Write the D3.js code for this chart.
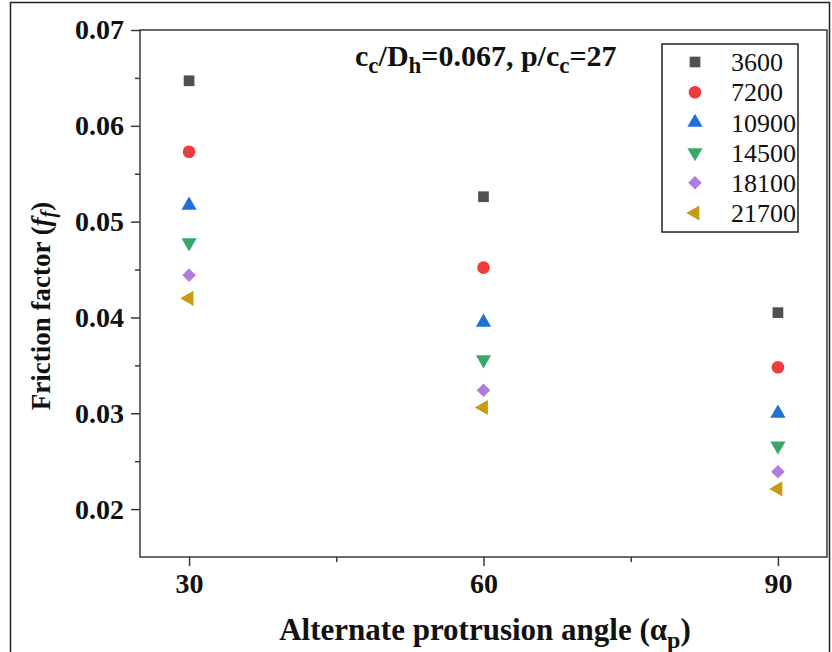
<!DOCTYPE html>
<html>
<head>
<meta charset="utf-8">
<script src="https://cdn.jsdelivr.net/npm/d3@7/dist/d3.min.js"></script>
<style>
  html, body { margin: 0; padding: 0; background: #fff; }
  svg { display: block; }
  text { font-family: "Liberation Serif", "Times New Roman", serif; fill: #111; }
</style>
</head>
<body>
<svg id="chart" width="832" height="652"></svg>
<script>
// Protrusion angles (x categories)
const angles = [30, 60, 90];
// Reynolds numbers, one series each
const series = ["3600", "7200", "10900", "14500", "18100", "21700"];
// Friction factor per series at 30, 60, 90 degrees
const f3600  = [0.0647, 0.0526, 0.0405];
const f7200  = [0.0573, 0.0452, 0.0348];
const f10900 = [0.0517, 0.0395, 0.0300];
const f14500 = [0.0478, 0.0356, 0.0266];
const f18100 = [0.0444, 0.0324, 0.0239];
const f21700 = [0.0420, 0.0306, 0.0221];
const values = [f3600, f7200, f10900, f14500, f18100, f21700];

const yTicks = [0.02, 0.03, 0.04, 0.05, 0.06, 0.07];
const yMinor = [0.025, 0.035, 0.045, 0.055, 0.065];
const xTicks = [30, 60, 90];
const xMinor = [45, 75];

const colors = ["#505050", "#ee3b3f", "#1f6fd8", "#38a86a", "#b07ade", "#c99a12"];
const shapes = ["square", "circle", "up", "down", "diamond", "left"];

const svg = d3.select("#chart");
const L = 140, R = 827, T = 30, B = 557;

const x = d3.scaleLinear().domain([25, 95]).range([L, R]);
const y = d3.scaleLinear().domain([0.015, 0.07]).range([B, T]);

// figure border
svg.append("rect").attr("x", 10.5).attr("y", 2.5).attr("width", 819).attr("height", 660)
  .attr("fill", "none").attr("stroke", "#222").attr("stroke-width", 1.5);

// marker path generator
function markerPath(shape) {
  switch (shape) {
    case "square": return d3.symbol(d3.symbolSquare, 115)();
    case "circle": return d3.symbol(d3.symbolCircle, 125)();
    case "up":     return d3.symbol(d3.symbolTriangle, 100)();
    case "down":   return d3.symbol(d3.symbolTriangle, 100)();
    case "diamond":return d3.symbol(d3.symbolSquare, 92)();
    case "left":   return d3.symbol(d3.symbolTriangle, 100)();
  }
}
function markerRot(shape) {
  return shape === "down" ? 180 : shape === "diamond" ? 45 : shape === "left" ? -90 : 0;
}

// axes
const axisColor = "#3a3a3a";
const gy = svg.append("g").attr("transform", `translate(${L},0)`)
  .call(d3.axisLeft(y).tickValues(yTicks).tickSize(9).tickPadding(7).tickFormat(d3.format(".2f")));
const gyMinor = svg.append("g").attr("transform", `translate(${L},0)`)
  .call(d3.axisLeft(y).tickValues(yMinor).tickSize(5).tickFormat(""));
const gx = svg.append("g").attr("transform", `translate(0,${B})`)
  .call(d3.axisBottom(x).tickValues(xTicks).tickSize(9).tickPadding(7).tickFormat(d3.format("d")));
const gxMinor = svg.append("g").attr("transform", `translate(0,${B})`)
  .call(d3.axisBottom(x).tickValues(xMinor).tickSize(5).tickFormat(""));
[gy, gyMinor, gx, gxMinor].forEach(g => {
  g.attr("font-size", null).attr("font-family", null);
  g.select(".domain").remove();
  g.selectAll("line").attr("stroke", axisColor).attr("stroke-width", 1.5);
});
svg.selectAll(".tick text").style("font-size", "28px").style("font-weight", "bold")
  .style("font-family", "'Liberation Serif', serif").attr("fill", "#111");

// plot frame
svg.append("rect").attr("x", L).attr("y", T).attr("width", R - L).attr("height", B - T)
  .attr("fill", "none").attr("stroke", axisColor).attr("stroke-width", 1.5);

// data points
const pts = svg.append("g");
series.forEach((s, i) => {
  pts.selectAll(null).data(values[i]).join("path")
    .attr("d", markerPath(shapes[i]))
    .attr("transform", (d, j) => `translate(${x(angles[j])},${y(d)}) rotate(${markerRot(shapes[i])})`)
    .attr("fill", colors[i]);
});

// legend
const lg = svg.append("g");
lg.append("rect").attr("x", 662).attr("y", 44).attr("width", 136).attr("height", 188)
  .attr("fill", "#fff").attr("stroke", "#222").attr("stroke-width", 1.5);
series.forEach((s, i) => {
  const ly = 62 + i * 30.2;
  lg.append("path").attr("d", markerPath(shapes[i]))
    .attr("transform", `translate(695,${ly}) rotate(${markerRot(shapes[i])})`)
    .attr("fill", colors[i]);
  lg.append("text").attr("x", 731).attr("y", ly).attr("dy", "0.35em")
    .style("font-size", "26px").text(s);
});

// annotation
const ann = svg.append("text").attr("x", 355).attr("y", 66)
  .style("font-size", "30px").style("font-weight", "bold");
ann.append("tspan").text("c");
ann.append("tspan").attr("dy", 7).style("font-size", "23px").text("c");
ann.append("tspan").attr("dy", -7).text("/D");
ann.append("tspan").attr("dy", 7).style("font-size", "23px").text("h");
ann.append("tspan").attr("dy", -7).text("=0.067, p/c");
ann.append("tspan").attr("dy", 7).style("font-size", "23px").text("c");
ann.append("tspan").attr("dy", -7).text("=27");

// x title
const xt = svg.append("text").attr("x", 485).attr("y", 640).attr("text-anchor", "middle")
  .style("font-size", "31px").style("font-weight", "bold");
xt.append("tspan").text("Alternate protrusion angle (α");
xt.append("tspan").attr("dy", 8).style("font-size", "24px").text("p");
xt.append("tspan").attr("dy", -8).text(")");

// y title
const yt = svg.append("text").attr("transform", `translate(50,306) rotate(-90)`)
  .attr("text-anchor", "middle").style("font-size", "27px").style("font-weight", "bold");
yt.append("tspan").text("Friction factor (");
yt.append("tspan").style("font-style", "italic").text("f");
yt.append("tspan").attr("dy", 5).style("font-style", "italic").style("font-size", "20px").text("f");
yt.append("tspan").attr("dy", -5).text(")");
</script>
</body>
</html>
